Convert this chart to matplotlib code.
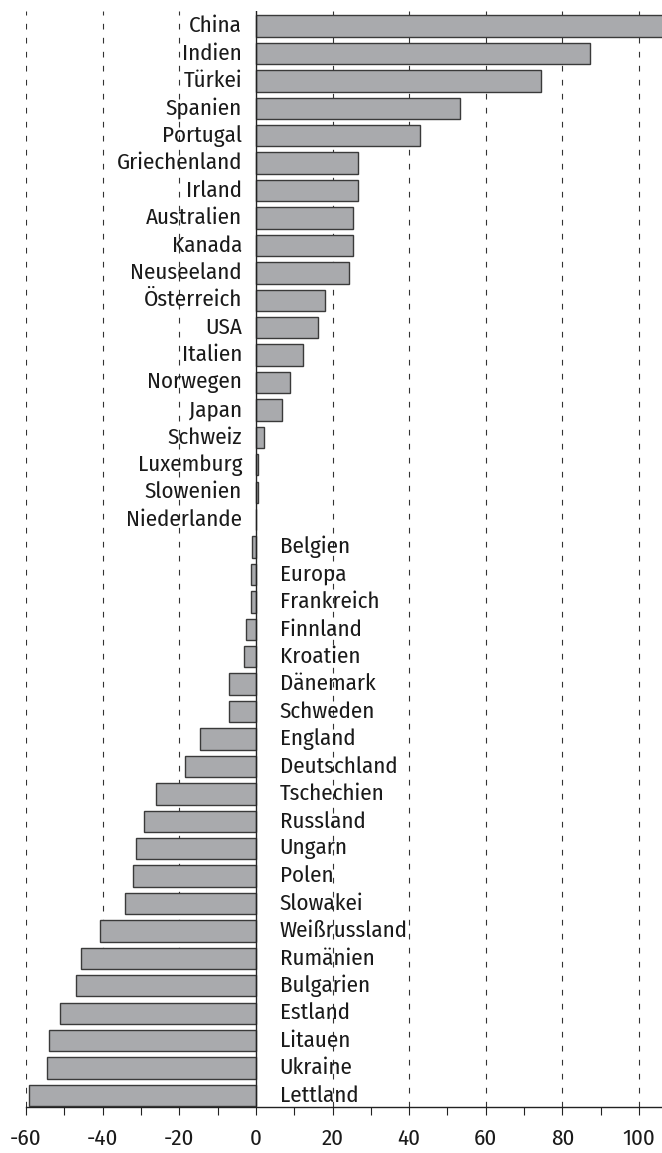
"""Horizontal bar chart: change by country, labels set against the zero line."""

import matplotlib

matplotlib.use("Agg")
import matplotlib.pyplot as plt

countries = [
    "China", "Indien", "Türkei", "Spanien", "Portugal", "Griechenland",
    "Irland", "Australien", "Kanada", "Neuseeland", "Österreich", "USA",
    "Italien", "Norwegen", "Japan", "Schweiz", "Luxemburg", "Slowenien",
    "Niederlande", "Belgien", "Europa", "Frankreich", "Finnland", "Kroatien",
    "Dänemark", "Schweden", "England", "Deutschland", "Tschechien",
    "Russland", "Ungarn", "Polen", "Slowakei", "Weißrussland", "Rumänien",
    "Bulgarien", "Estland", "Litauen", "Ukraine", "Lettland",
]
values = [
    110.0, 87.3, 74.4, 53.2, 42.8, 26.6,
    26.6, 25.4, 25.4, 24.4, 18.1, 16.2,
    12.2, 8.9, 6.8, 2.0, 0.5, 0.5,
    0.0, -0.9, -1.4, -1.4, -2.5, -3.0,
    -7.0, -7.0, -14.5, -18.5, -26.1,
    -29.2, -31.2, -32.1, -34.1, -40.6, -45.6,
    -47.0, -51.0, -54.0, -54.6, -59.1,
]
xticks = [-60, -40, -20, 0, 20, 40, 60, 80, 100]
grid_x = [-60, -40, -20, 20, 40, 60, 80, 100]

# Humanist condensed face, close to the one in the reference.
plt.rcParams["font.family"] = ["Fira Sans Condensed", "DejaVu Sans"]

fig = plt.figure(figsize=(6.62, 11.53), dpi=100)
ax = fig.add_axes([0.0393, 0.0399, 0.9607, 0.9506])

n = len(countries)
ypos = list(range(n))
ax.barh(ypos, values, height=0.78, color="#a9aaad", edgecolor="#3a3a3a",
        linewidth=1.0, zorder=2)

for x in grid_x:
    ax.axvline(x, color="#333333", lw=0.8, linestyle=(0, (5.1, 7.5)), zorder=1)
ax.axvline(0, color="#222222", lw=1.0, zorder=3)

for y, name, v in zip(ypos, countries, values):
    if v >= 0:
        ax.annotate(name, (0, y), xytext=(-10, 0), textcoords="offset points",
                    ha="right", va="center", fontsize=16.5, color="#1a1a1a", zorder=4)
    else:
        ax.annotate(name, (0, y), xytext=(17, 0), textcoords="offset points",
                    ha="left", va="center", fontsize=16.5, color="#1a1a1a", zorder=4)

ax.set_xlim(-60, 106)
ax.set_ylim(n - 1 + 0.42, -0.55)
ax.set_xticks(xticks)
ax.set_xticklabels([str(t) for t in xticks], fontsize=16.5, color="#1a1a1a")
ax.set_xticks(range(-50, 106, 20), minor=True)
ax.tick_params(axis="x", which="both", direction="out", length=6, width=0.8,
               pad=9, color="#222222")
ax.set_yticks([])
for side in ("top", "right", "left"):
    ax.spines[side].set_visible(False)
ax.spines["bottom"].set_linewidth(1.0)
ax.spines["bottom"].set_color("#222222")

fig.savefig("out.png", dpi=100)
